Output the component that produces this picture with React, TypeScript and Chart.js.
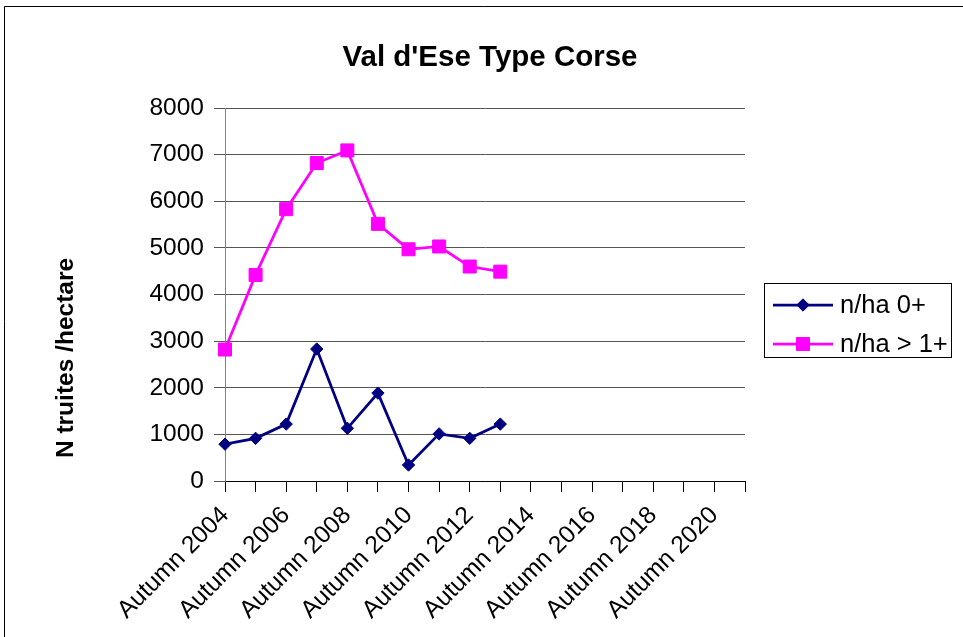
import React, { useEffect, useRef } from "react";
import { Chart, registerables } from "chart.js";

Chart.register(...registerables);

const CHART_TITLE = "Val d'Ese Type Corse";
const Y_TITLE = "N truites /hectare";

const CATEGORIES = [
  "Autumn 2004", "Autumn 2005", "Autumn 2006", "Autumn 2007", "Autumn 2008",
  "Autumn 2009", "Autumn 2010", "Autumn 2011", "Autumn 2012", "Autumn 2013",
  "Autumn 2014", "Autumn 2015", "Autumn 2016", "Autumn 2017", "Autumn 2018",
  "Autumn 2019", "Autumn 2020", "Autumn 2021",
];

const SERIES_0_LABEL = "n/ha 0+";
const SERIES_0 = [790, 915, 1220, 2830, 1130, 1885, 343, 1010, 915, 1220];

const SERIES_1_LABEL = "n/ha > 1+";
const SERIES_1 = [2820, 4420, 5830, 6820, 7090, 5515, 4970, 5030, 4600, 4490];

const Y_TICKS = [0, 1000, 2000, 3000, 4000, 5000, 6000, 7000, 8000];

const BLUE = "#000080";
const PINK = "#FF00FF";
const FONT = "'Liberation Sans', Arial, sans-serif";

function drawDiamond(ctx: CanvasRenderingContext2D, x: number, y: number, r: number) {
  ctx.beginPath();
  ctx.moveTo(x - r, y);
  ctx.lineTo(x, y - r);
  ctx.lineTo(x + r, y);
  ctx.lineTo(x, y + r);
  ctx.closePath();
  ctx.fill();
  ctx.stroke();
}

function drawSquare(ctx: CanvasRenderingContext2D, x: number, y: number, h: number) {
  ctx.beginPath();
  ctx.rect(x - h, y - h, 2 * h, 2 * h);
  ctx.fill();
  ctx.stroke();
}

const decorPlugin = {
  id: "decor",
  afterDraw(chart: any) {
    const ctx: CanvasRenderingContext2D = chart.ctx;
    ctx.save();
    // outer frame (top and left edges visible)
    ctx.strokeStyle = "#000";
    ctx.lineWidth = 1;
    ctx.beginPath();
    ctx.moveTo(4.5, 637);
    ctx.lineTo(4.5, 6.5);
    ctx.lineTo(963, 6.5);
    ctx.stroke();

    // chart title
    ctx.fillStyle = "#000";
    ctx.font = `bold 29.5px ${FONT}`;
    ctx.textAlign = "center";
    ctx.textBaseline = "alphabetic";
    ctx.fillText(CHART_TITLE, 490, 66);

    // y axis title
    ctx.save();
    ctx.translate(73, 358);
    ctx.rotate(-Math.PI / 2);
    ctx.font = `bold 24.5px ${FONT}`;
    ctx.textAlign = "center";
    ctx.textBaseline = "alphabetic";
    ctx.fillText(Y_TITLE, 0, 0);
    ctx.restore();

    // legend
    ctx.strokeStyle = "#000";
    ctx.lineWidth = 1;
    ctx.strokeRect(764.5, 283.5, 187, 74);
    const items = [
      { label: SERIES_0_LABEL, color: BLUE, kind: "diamond", y: 305 },
      { label: SERIES_1_LABEL, color: PINK, kind: "square", y: 344 },
    ];
    for (const it of items) {
      ctx.strokeStyle = it.color;
      ctx.fillStyle = it.color;
      ctx.lineWidth = 2.75;
      ctx.beginPath();
      ctx.moveTo(773, it.y);
      ctx.lineTo(833, it.y);
      ctx.stroke();
      ctx.lineWidth = 1;
      if (it.kind === "diamond") drawDiamond(ctx, 803, it.y, 6.2);
      else drawSquare(ctx, 803, it.y, 6.5);
      ctx.fillStyle = "#000";
      ctx.font = `25.5px ${FONT}`;
      ctx.textAlign = "left";
      ctx.textBaseline = "middle";
      ctx.fillText(it.label, 840, it.y + 1);
    }
    ctx.restore();
  },
};

export default function App() {
  const ref = useRef<HTMLCanvasElement | null>(null);

  useEffect(() => {
    if (!ref.current) return;
    const chart = new Chart(ref.current, {
      type: "line",
      data: {
        labels: CATEGORIES,
        datasets: [
          {
            label: SERIES_0_LABEL,
            data: SERIES_0,
            borderColor: BLUE,
            backgroundColor: BLUE,
            borderWidth: 2.75,
            tension: 0,
            pointStyle: "rectRot",
            pointRadius: 6.2,
            pointBorderWidth: 1,
            pointBackgroundColor: BLUE,
            pointBorderColor: BLUE,
            clip: false as any,
          },
          {
            label: SERIES_1_LABEL,
            data: SERIES_1,
            borderColor: PINK,
            backgroundColor: PINK,
            borderWidth: 2.75,
            tension: 0,
            pointStyle: "rect",
            pointRadius: 9.2,
            pointBorderWidth: 1,
            pointBackgroundColor: PINK,
            pointBorderColor: PINK,
            clip: false as any,
          },
        ],
      },
      options: {
        animation: false,
        responsive: false,
        maintainAspectRatio: false,
        layout: { padding: { left: 0, right: 218, top: 108, bottom: 0 } },
        plugins: {
          legend: { display: false },
          title: { display: false },
          tooltip: { enabled: false },
        },
        scales: {
          x: {
            type: "category",
            offset: false,
            grid: {
              display: true,
              drawOnChartArea: false,
              drawTicks: true,
              tickLength: 11,
              color: "#000",
              lineWidth: 1,
            },
            border: { display: true, color: "#000", width: 1 },
            ticks: {
              autoSkip: false,
              minRotation: 45,
              maxRotation: 45,
              padding: 9,
              color: "#000",
              font: { family: FONT, size: 24.5 },
              callback: (_v: any, i: number) => (i % 2 === 0 ? CATEGORIES[i] : ""),
            },
            afterFit: (s: any) => {
              s.height = 637 - 481;
            },
          },
          y: {
            min: Y_TICKS[0],
            max: Y_TICKS[Y_TICKS.length - 1],
            afterBuildTicks: (s: any) => {
              s.ticks = Y_TICKS.map((v) => ({ value: v }));
            },
            grid: {
              color: "#555",
              lineWidth: 1,
              drawTicks: true,
              tickLength: 11,
            },
            border: { display: true, color: "#808080", width: 1 },
            ticks: {
              padding: 10,
              color: "#000",
              font: { family: FONT, size: 24.5 },
              callback: (v: any) => String(v),
            },
            afterFit: (s: any) => {
              s.width = 225;
            },
          },
        },
      },
      plugins: [decorPlugin],
    });
    return () => chart.destroy();
  }, []);

  return (
    <div style={{ position: "absolute", left: 0, top: 0, width: 963, height: 637, background: "#fff" }}>
      <canvas ref={ref} width={963} height={637} style={{ width: 963, height: 637, display: "block" }} />
    </div>
  );
}
